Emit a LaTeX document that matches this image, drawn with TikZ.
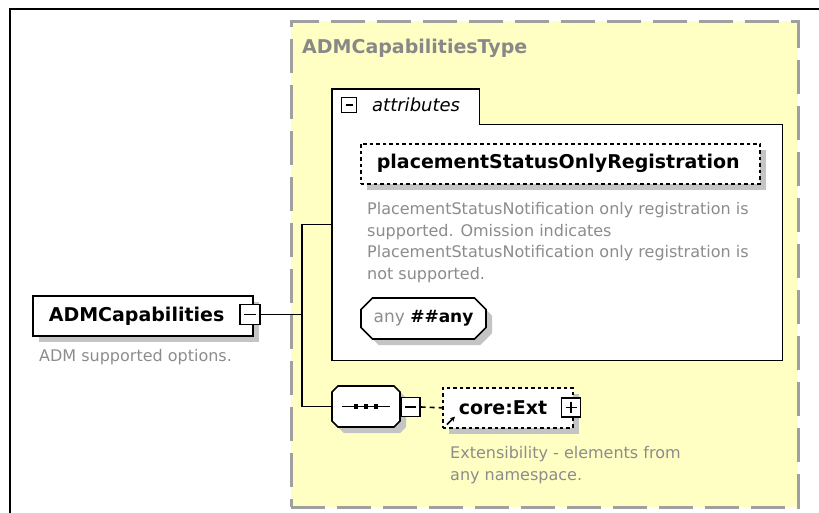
\documentclass[tikz,border=0pt]{standalone}
\usepackage{fontspec}
\setmainfont{DejaVu Sans}
\usetikzlibrary{positioning,shapes.misc,shadows,arrows.meta}
\definecolor{ink}{HTML}{000000}
\definecolor{note}{HTML}{8C8C8C}
\definecolor{typefill}{HTML}{FFFFC4}
\definecolor{typeedge}{HTML}{A0A0A0}
\definecolor{shade}{HTML}{C4C4C4}
\newcommand{\elemfont}{\fontsize{19}{22}\selectfont\bfseries}
\newcommand{\notefont}{\fontsize{16}{21.7}\selectfont}
\newcommand{\seqline}[1]{\rule[1.45pt]{#1}{1.6pt}}
\newcommand{\seqdot}{\rule{4.5pt}{4.5pt}}
\tikzset{
  elem/.style={draw=ink,fill=white,line width=1.6pt,font=\elemfont,inner xsep=16pt,inner ysep=0pt,
               minimum height=40pt,align=left,
               drop shadow={shadow xshift=6pt,shadow yshift=-6pt,fill=shade,opacity=1}},
  optelem/.style={elem,dash pattern=on 3.5pt off 3pt},
  compositor/.style={chamfered rectangle,chamfered rectangle xsep=8pt,draw=ink,fill=white,
               line width=1.6pt,inner sep=0pt,minimum height=41pt,
               drop shadow={shadow xshift=6pt,shadow yshift=-6pt,fill=shade,opacity=1}},
  tog/.style={draw=ink,fill=white,line width=1.2pt,minimum size=19pt,inner sep=0pt},
  togminus/.style={tog,path picture={
      \draw[line width=1.2pt] ([xshift=4pt]path picture bounding box.west) -- ([xshift=-4pt]path picture bounding box.east);}},
  togplus/.style={tog,path picture={
      \draw[line width=1.2pt] ([xshift=4pt]path picture bounding box.west) -- ([xshift=-4pt]path picture bounding box.east);
      \draw[line width=1.2pt] ([yshift=4pt]path picture bounding box.south) -- ([yshift=-4pt]path picture bounding box.north);}},
  notetext/.style={text=note,font=\notefont,align=left,inner sep=0pt,anchor=north west},
  wire/.style={draw=ink,line width=1.6pt},
}

\begin{document}
\begin{tikzpicture}[x=1pt,y=-1pt]
    \useasboundingbox (0,0) rectangle (819,513);
    % frame
    \draw[ink,line width=1.6pt] (10,513) -- (10,9) -- (819,9);
    % complex type
    \node[draw=typeedge,fill=typefill,line width=2.6pt,dash pattern=on 34pt off 12pt,
          minimum width=507pt,minimum height=486pt,anchor=north west] (type) at (290,20) {};
    \node[font=\elemfont,text=typeedge!85!black,anchor=west,inner sep=0pt] (typename) at (302,48)
      {ADMCapabilitiesType};
    % root element
    \node[elem,text width=188pt,anchor=north west] (adm) at (32,295) {ADMCapabilities};
    \node[togminus,minimum size=20pt] (admtog) at (250,314.5) {};
    \node[notetext] (admnote) at (39,349) {ADM supported options.};
    % attributes group
    \node[minimum width=450pt,minimum height=271pt,anchor=north west,inner sep=0pt] (attr) at (332,89) {};
    \node[minimum width=147pt,minimum height=35pt,anchor=north west,inner sep=0pt] (tab) at (332,89) {};
    \draw[wire,fill=white] (attr.north west) -- (tab.north east) -- (tab.south east) -| (attr.south east)
      -- (attr.south west) -- cycle;
    \node[togminus,minimum size=15pt] (tabtog) at (349,105) {};
    \node[font=\fontsize{18}{20}\selectfont\itshape,anchor=west,inner sep=0pt] (tabname) at (372,105) {attributes};
    \node[optelem,text width=367pt,anchor=north west] (placement) at (360,143) {placementStatusOnlyRegistration};
    \node[notetext] (placenote) at (367,202)
      {PlacementStatusNotification only registration is\\supported. Omission indicates\\
       PlacementStatusNotification only registration is\\not supported.};
    \node[compositor,minimum width=125pt,font=\fontsize{17}{20}\selectfont] (anyattr) at (423.5,318.5)
      {\textcolor{note}{any}\ \textbf{\#\#any}};
    % sequence
    \node[compositor,minimum width=68pt] (seq) at (366,406.5)
      {\seqline{12pt}\seqdot\seqline{5.5pt}\seqdot\seqline{5.5pt}\seqdot\seqline{12pt}};
    \node[togminus] (seqtog) at (410.5,407) {};
    \node[optelem,text width=98pt,anchor=north west] (core) at (442,387) {core:Ext};
    \node[togplus] (coretog) at (571,407.5) {};
    \draw[ink,line width=1.6pt,-{Stealth[length=5pt,width=5pt]}] ([shift={(5,-4)}]core.south west) -- ++(8,-8);
    \node[notetext] (corenote) at (450,446) {Extensibility - elements from\\any namespace.};
    % connectors
    \coordinate (fork) at (302,314.5);
    \draw[wire] (admtog.east) -- (fork);
    \draw[wire] (attr.west) -| (fork) |- (seq.west);
    \draw[wire,dash pattern=on 5pt off 4pt] (seqtog.east) -- (core.west);
\end{tikzpicture}
\end{document}
